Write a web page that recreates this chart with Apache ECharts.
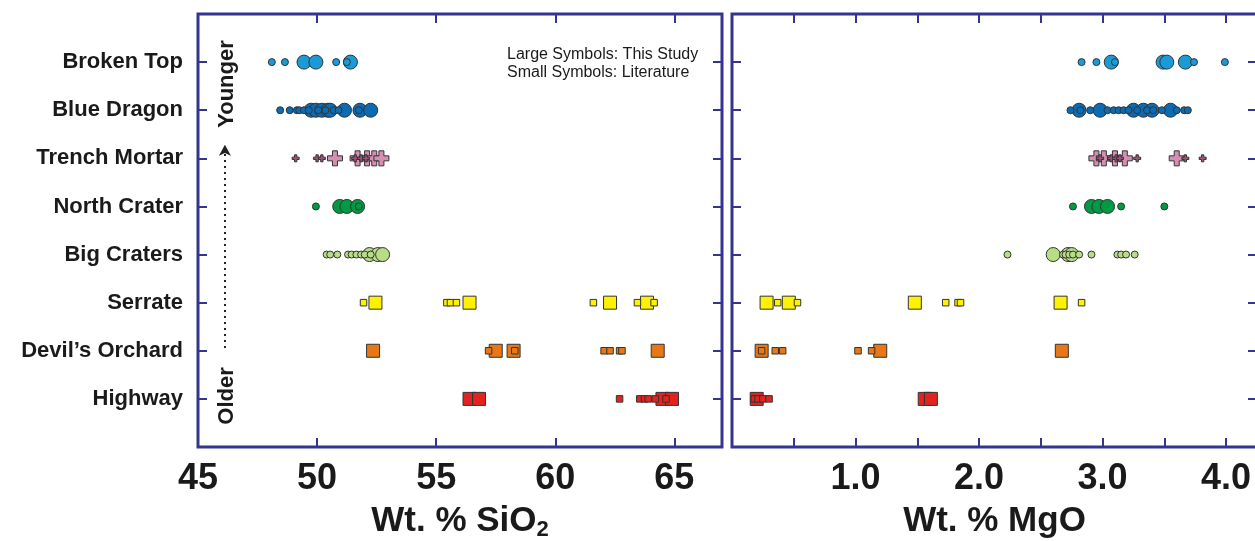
<!DOCTYPE html>
<html>
<head>
<meta charset="utf-8">
<script src="https://cdn.jsdelivr.net/npm/echarts@6/dist/echarts.min.js"></script>
<style>
  html, body { margin: 0; padding: 0; background: #fff; }
  #main { width: 1255px; height: 541px; }
</style>
</head>
<body>
<div id="main"></div>
<script>
// rows top to bottom (younger -> older)
const rows = ["Broken Top", "Blue Dragon", "Trench Mortar", "North Crater", "Big Craters", "Serrate", "Devil\u2019s Orchard", "Highway"];
const shapes = ["circle", "circle", "plus", "circle", "circle", "rect", "rect", "rect"];
const fills = ["#1a9bd7", "#0b6cb3", "#d48fb3", "#009a45", "#b7dd86", "#fff200", "#e87817", "#e2231f"];

// Wt. % SiO2
const siLarge = [
  [49.45, 49.95, 51.4],
  [49.75, 49.95, 50.2, 50.45, 50.55, 51.15, 51.8, 52.25],
  [50.75, 51.7, 52.1, 52.4, 52.7],
  [50.95, 51.25, 51.7],
  [52.2, 52.55, 52.75],
  [52.45, 56.4, 62.3, 63.85],
  [52.35, 57.5, 58.25, 64.3],
  [56.4, 56.8, 64.5, 64.9]
];
const siSmall = [
  [48.1, 48.65, 50.8, 51.25],
  [48.45, 48.85, 49.15, 49.25, 49.45, 49.65, 50.05, 50.35, 50.7, 50.9, 51.75],
  [49.1, 50.0, 50.2, 51.6, 51.85, 52.05],
  [49.95, 51.75],
  [50.4, 50.55, 50.85, 51.3, 51.45, 51.65, 51.85, 52.0, 52.25],
  [51.95, 55.45, 55.6, 55.85, 61.6, 63.45, 64.15],
  [57.2, 58.3, 62.05, 62.3, 62.7, 62.8],
  [62.7, 63.55, 63.75, 63.9, 64.2, 64.65]
];
// Wt. % MgO
const mgLarge = [
  [3.07, 3.49, 3.52, 3.67],
  [2.81, 2.98, 3.25, 3.33, 3.40, 3.55],
  [2.95, 3.01, 3.10, 3.18, 3.60],
  [2.91, 2.97, 3.04],
  [2.60, 2.72, 2.75],
  [0.28, 0.46, 1.48, 2.66],
  [0.24, 1.20, 2.67],
  [0.20, 1.56, 1.61]
];
const mgSmall = [
  [2.83, 2.95, 3.10, 3.74, 3.99],
  [2.74, 2.82, 2.90, 3.04, 3.09, 3.13, 3.17, 3.21, 3.28, 3.36, 3.41, 3.48, 3.60, 3.66, 3.69],
  [2.98, 3.07, 3.11, 3.14, 3.28, 3.67, 3.81],
  [2.76, 3.15, 3.50],
  [2.23, 2.68, 2.70, 2.73, 2.76, 2.81, 2.91, 3.12, 3.15, 3.19, 3.26],
  [0.37, 0.53, 1.73, 1.83, 1.85, 2.83],
  [0.24, 0.35, 0.41, 1.02, 1.13],
  [0.18, 0.21, 0.25, 0.30]
];

// dotted age arrow, in SiO2 / row units
const arrowX = 46.13;
const arrowFrom = 2.06;
const arrowTo = 6.28;

const navy = "#35358f";
const ink = "#1a1a1a";
const font = "Liberation Sans, Arial, Helvetica, sans-serif";
const plusPath = "path://M1,0H2V1H3V2H2V3H1V2H0V1H1Z";

function rowValue(i) {
  return rows.length - i;
}

function symbolFor(shape) {
  if (shape === "plus") return plusPath;
  return shape;
}

function sizeFor(shape, large) {
  if (shape === "rect") return large ? 13 : 6.5;
  if (shape === "plus") return large ? 15 : 7;
  return large ? 14 : 7;
}

const series = [];
[[siLarge, siSmall, 0], [mgLarge, mgSmall, 2]].forEach(([big, small, axis]) => {
  rows.forEach((name, i) => {
    [[big[i], true], [small[i], false]].forEach(([vals, large]) => {
      let color = fills[i];
      if (shapes[i] === "plus" && !large) color = "#9c5578";
      series.push({
        type: "scatter",
        name: name,
        xAxisIndex: axis,
        yAxisIndex: axis,
        symbol: symbolFor(shapes[i]),
        symbolSize: sizeFor(shapes[i], large),
        itemStyle: {
          color: color,
          borderColor: "#333",
          borderWidth: 1,
          opacity: 1
        },
        data: vals.map((v) => [v, rowValue(i)]),
        silent: true
      });
    });
  });
});

series.push({
  type: "scatter",
  xAxisIndex: 0,
  yAxisIndex: 0,
  data: [],
  markLine: {
    silent: true,
    symbol: ["none", "arrow"],
    symbolSize: [9, 11],
    label: { show: false },
    lineStyle: { color: "#222", width: 2, type: [2, 4] },
    data: [[{ coord: [arrowX, arrowFrom] }, { coord: [arrowX, arrowTo] }]]
  }
});

const tickStyle = { show: true, inside: true, length: 9, lineStyle: { color: navy, width: 2 } };
const noLine = { show: false, onZero: false };
const labelStyle = { fontFamily: font, fontWeight: "bold", fontSize: 36, color: ink, margin: 14 };

function xAxes(gridIndex, min, max, interval, fmt, name) {
  return [
    {
      type: "value", gridIndex, position: "bottom", min, max, interval,
      axisLine: noLine, splitLine: { show: false },
      axisTick: tickStyle,
      axisLabel: Object.assign({ formatter: fmt, showMaxLabel: false }, labelStyle),
      name: name, nameLocation: "middle", nameGap: 54,
      nameTextStyle: {
        rich: {
          a: { fontFamily: font, fontWeight: "bold", fontSize: 35, color: ink, lineHeight: 40 },
          sub: { fontFamily: font, fontWeight: "bold", fontSize: 22, color: ink, verticalAlign: "bottom", lineHeight: 40, padding: [12, 0, 0, 0] }
        }
      }
    },
    {
      type: "value", gridIndex, position: "top", min, max, interval,
      axisLine: noLine, splitLine: { show: false },
      axisTick: tickStyle, axisLabel: { show: false }
    }
  ];
}

function yAxes(gridIndex, showLabels) {
  const base = {
    type: "value", gridIndex, min: 0, max: rows.length + 1, interval: 1,
    axisLine: noLine, splitLine: { show: false },
    axisTick: tickStyle
  };
  return [
    Object.assign({}, base, {
      position: "left",
      axisLabel: showLabels ? {
        fontFamily: font, fontWeight: "bold", fontSize: 22, color: ink, margin: 15,
        formatter: (v) => (v >= 1 && v <= rows.length ? rows[rows.length - v] : "")
      } : { show: false }
    }),
    Object.assign({}, base, { position: "right", axisLabel: { show: false } })
  ];
}

const chart = echarts.init(document.getElementById("main"), null, { renderer: "canvas" });
chart.setOption({
  animation: false,
  backgroundColor: "#fff",
  grid: [
    { left: 198, top: 14, width: 524, height: 433, show: true, borderColor: navy, borderWidth: 3, backgroundColor: "transparent", outerBoundsMode: "none", containLabel: false },
    { left: 732, top: 14, width: 525, height: 433, show: true, borderColor: navy, borderWidth: 3, backgroundColor: "transparent", outerBoundsMode: "none", containLabel: false }
  ],
  xAxis: [
    ...xAxes(0, 45, 67, 5, (v) => (v % 5 === 0 ? String(v) : ""), "{a|Wt. % SiO}{sub|2}"),
    ...xAxes(1, 0, 4.25, 0.5, (v) => (Number.isInteger(v) && v > 0 ? v.toFixed(1) : ""), "{a|Wt. % MgO}")
  ],
  yAxis: [...yAxes(0, true), ...yAxes(1, false)],
  graphic: [
    {
      type: "text", x: 227, y: 84, rotation: Math.PI / 2,
      style: { text: "Younger", font: "bold 22px " + font, fill: ink, align: "center", verticalAlign: "middle", textAlign: "center", textVerticalAlign: "middle" }
    },
    {
      type: "text", x: 227, y: 396, rotation: Math.PI / 2,
      style: { text: "Older", font: "bold 22px " + font, fill: ink, align: "center", verticalAlign: "middle", textAlign: "center", textVerticalAlign: "middle" }
    },
    {
      type: "text", x: 507, y: 46,
      style: { text: "Large Symbols: This Study\nSmall Symbols: Literature", font: "16px " + font, fill: ink, lineHeight: 18 }
    }
  ],
  series: series
});
</script>
</body>
</html>
